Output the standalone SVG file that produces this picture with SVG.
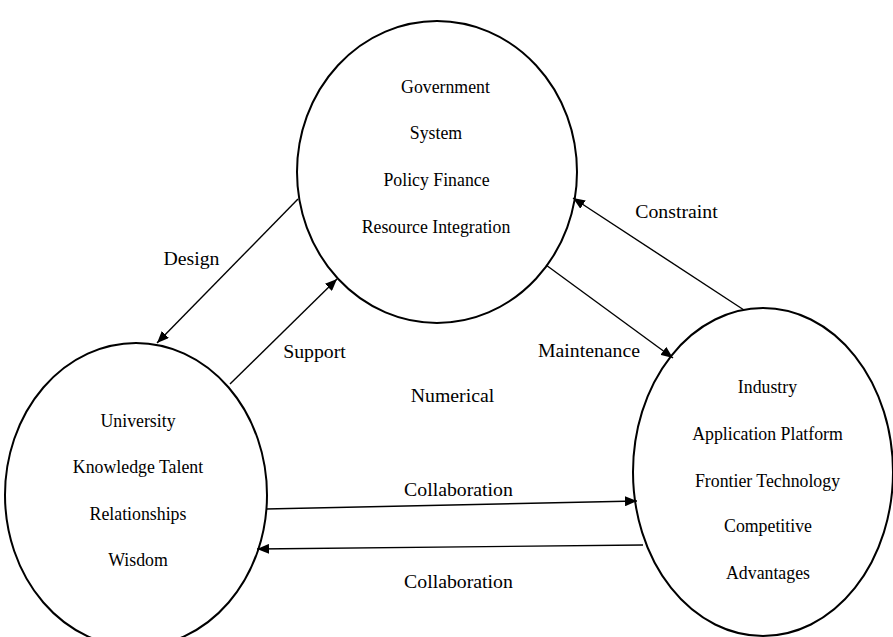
<svg xmlns="http://www.w3.org/2000/svg" width="893" height="637" viewBox="0 0 893 637">
  <style>
    .node { fill: #ffffff; stroke: #000000; stroke-width: 2; }
    .txt { font-family: 'Liberation Serif', 'Times New Roman', serif; font-size: 17.8px; fill: #000000; text-anchor: middle; }
    .lbl { font-family: 'Liberation Serif', 'Times New Roman', serif; font-size: 19.8px; fill: #000000; text-anchor: middle; }
    .link { stroke: #000000; stroke-width: 1.4; fill: none; marker-end: url(#arrow); }
  </style>
  <defs>
    <marker id="arrow" viewBox="0 0 12 10" refX="12" refY="5" markerWidth="12" markerHeight="10" markerUnits="userSpaceOnUse" orient="auto">
      <path d="M0,0 L12,5 L0,10 Z" fill="#000000"/>
    </marker>
  </defs>
  <rect width="893" height="637" fill="#ffffff"/>

  <g id="government">
    <ellipse class="node" cx="437" cy="172" rx="140" ry="151"/>
    <text class="txt" x="445.5" y="93">Government</text>
    <text class="txt" x="436" y="139">System</text>
    <text class="txt" x="436.5" y="186">Policy Finance</text>
    <text class="txt" x="436" y="233">Resource Integration</text>
  </g>

  <g id="university">
    <ellipse class="node" cx="136" cy="495" rx="131" ry="152"/>
    <text class="txt" x="138" y="427">University</text>
    <text class="txt" x="138" y="473">Knowledge Talent</text>
    <text class="txt" x="138" y="520">Relationships</text>
    <text class="txt" x="138" y="566">Wisdom</text>
  </g>

  <g id="industry">
    <ellipse class="node" cx="763" cy="472" rx="130" ry="164"/>
    <text class="txt" x="767.5" y="393">Industry</text>
    <text class="txt" x="767.5" y="440">Application Platform</text>
    <text class="txt" x="767.5" y="487">Frontier Technology</text>
    <text class="txt" x="768" y="532">Competitive</text>
    <text class="txt" x="768" y="579">Advantages</text>
  </g>

  <g id="connectors">
    <line class="link" x1="298" y1="199" x2="157" y2="343"/>
    <line class="link" x1="230" y1="384" x2="337" y2="279"/>
    <line class="link" x1="744" y1="310" x2="573" y2="198"/>
    <line class="link" x1="546" y1="265" x2="673" y2="358"/>
    <line class="link" x1="266" y1="509" x2="637" y2="501"/>
    <line class="link" x1="643" y1="545" x2="257" y2="549"/>
  </g>

  <g id="labels">
    <text class="lbl" x="191.5" y="265">Design</text>
    <text class="lbl" x="314.5" y="358">Support</text>
    <text class="lbl" x="676.5" y="218">Constraint</text>
    <text class="lbl" x="589" y="357">Maintenance</text>
    <text class="lbl" x="452.5" y="402">Numerical</text>
    <text class="lbl" x="458.5" y="496">Collaboration</text>
    <text class="lbl" x="458.5" y="588">Collaboration</text>
  </g>
</svg>
